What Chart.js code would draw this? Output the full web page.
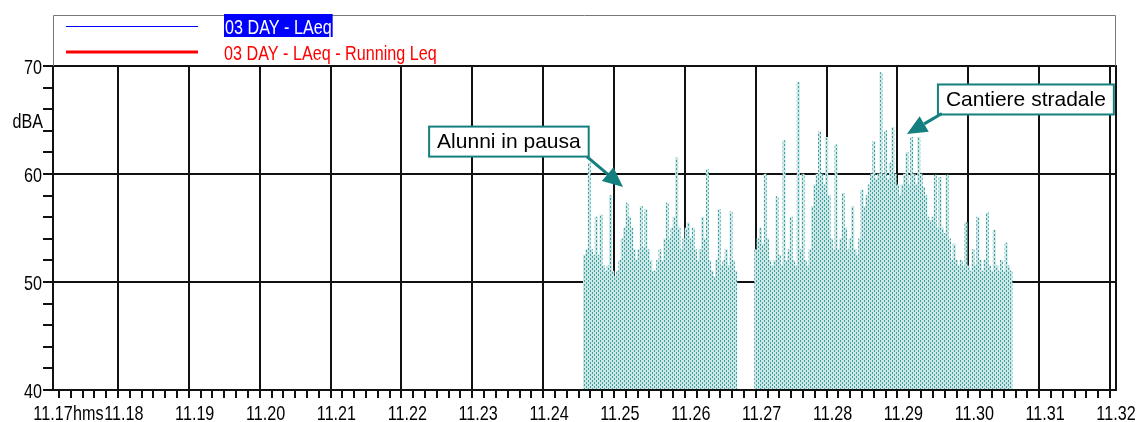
<!DOCTYPE html>
<html>
<head>
<meta charset="utf-8">
<script src="https://cdn.jsdelivr.net/npm/chart.js@4.4.0/dist/chart.umd.min.js"></script>
<style>
  body { margin: 0; background: #fff; }
  canvas { display: block; }
</style>
</head>
<body>
<canvas id="grafico" width="1136" height="422"></canvas>
<script>
// x in seconds after 11:00 (11.17 = 1020 s)
var xMin = 1020;
var xMax = 1920;
var yMin = 40;
var yMax = 70;
var xLabelStep = 60;
var yLabelStep = 10;

// LAeq, one value every 2 s
var sampleStep = 2;
var block1Start = 1470; // 11:24:30
var laeqBlock1 = [52.5,53,61,53,52.5,56,52.5,56.2,51.5,51, 51.5,58,51,50.5,51,52,54,55,57.3,56,
                  55,53,52,53,57,53.2,56.7,53,52,51, 51,52,53,52,54,57.3,54,55,56,61.5,
                  55,53,54,55,55.5,54,55,53,52,53, 56,54,60.4,52,51,50.5,52,56.7,51.5,52,
                  53,51.5,56.5,52,51];
var block2Start = 1615; // 11:26:55
var laeqBlock2 = [53,54,55,53.5,60,54,52,51.5,52,57.9, 52.5,51.5,63.1,52,53,56,52,51.5,68.5,53,
                  60,52,51.5,53,57,59,60,63.9,60,59, 63.4,58,54,53,62.7,53,54,58.2,55,53,
                  54,57,53,52.5,54,58.5,57,58,59,60, 63,59.5,60,69.4,60,64,59.5,61,64.3,60,
                  59,58,59,60,62,59,63.4,60,59,63.4, 60,58.8,58,56,55.7,56,59.9,55,59.7,55,
                  54.5,59.9,54,52,53.5,52,51.5,52,51.5,55.5, 51.5,51,53,51.5,56,52,51,52,56.4,51.5,
                  51,54.8,51.5,51,52,51,53.6,51.5,51];
var refLevel = 50;

var legendLabels = ['03 DAY - LAeq', '03 DAY - LAeq - Running Leq'];
var notes = [
    { text: 'Alunni in pausa',   x: 1406,   y: 63.0, tailX: 1472,   tailY: 61.6, tipX: 1502.6, tipY: 58.8 },
    { text: 'Cantiere stradale', x: 1843.7, y: 66.9, tailX: 1772.6, tailY: 65.6, tipX: 1743,   tipY: 63.7 }
];

var sans = '"Liberation Sans", Arial, sans-serif';
var squeeze = 0.77;   // the original uses a narrow face
var teal = '#13807f';

function puntos(start, values) {
    return values.map(function(v, i) { return { x: start + i * sampleStep, y: v }; });
}

// hatch of offset dashes like the original
function trama() {
    var c = document.createElement('canvas');
    c.width = 4; c.height = 4;
    var g = c.getContext('2d');
    g.fillStyle = '#cde7e7';
    g.fillRect(0, 0, 4, 4);
    g.fillStyle = '#3a9f9f';
    g.fillRect(0, 0, 1, 2);
    g.fillRect(2, 2, 1, 2);
    return g.createPattern(c, 'repeat');
}

function texto(ctx, s, x, y, align) {
    ctx.save();
    ctx.translate(x, y);
    ctx.scale(squeeze, 1);
    ctx.textAlign = align;
    ctx.fillText(s, 0, 0);
    ctx.restore();
}

var dibujos = {
    id: 'dibujos',
    afterDraw: function(chart) {
        var ctx = chart.ctx;
        var a = chart.chartArea;
        var xs = chart.scales.x, ys = chart.scales.y;
        ctx.save();

        // frame
        ctx.strokeStyle = '#111';
        ctx.lineWidth = 2;
        ctx.strokeRect(a.left, a.top, a.right - a.left, a.bottom - a.top);

        // legend box
        ctx.strokeStyle = '#777';
        ctx.lineWidth = 1;
        ctx.beginPath();
        ctx.moveTo(a.left + 0.5, a.top);
        ctx.lineTo(a.left + 0.5, 15.5);
        ctx.lineTo(a.right - 0.5, 15.5);
        ctx.lineTo(a.right - 0.5, a.top);
        ctx.stroke();

        ctx.font = '21px ' + sans;
        ctx.textBaseline = 'alphabetic';
        ctx.strokeStyle = '#0000ff';
        ctx.lineWidth = 1;
        ctx.beginPath();
        ctx.moveTo(66, 26.5);
        ctx.lineTo(198, 26.5);
        ctx.stroke();
        var w = ctx.measureText(legendLabels[0]).width * squeeze;
        ctx.fillStyle = '#0000ff';
        ctx.fillRect(224, 14, w + 2, 23);
        ctx.fillStyle = '#fff';
        texto(ctx, legendLabels[0], 225, 33.5, 'left');

        ctx.strokeStyle = '#ff0000';
        ctx.lineWidth = 3;
        ctx.beginPath();
        ctx.moveTo(66, 52);
        ctx.lineTo(198, 52);
        ctx.stroke();
        ctx.fillStyle = '#ff0000';
        texto(ctx, legendLabels[1], 224, 59.5, 'left');

        // tick labels
        ctx.fillStyle = '#000';
        for (var v = xMin; v <= xMax; v += xLabelStep) {
            texto(ctx, '11.' + (v / 60), xs.getPixelForValue(v), 420, 'center');
        }
        texto(ctx, 'hms', xs.getPixelForValue(xMin) + 20, 420, 'left');
        for (var y = yMin; y <= yMax; y += yLabelStep) {
            texto(ctx, String(y), a.left - 11, ys.getPixelForValue(y) + 7.5, 'right');
        }
        texto(ctx, 'dBA', a.left - 10, ys.getPixelForValue(65) + 7.5, 'right');

        // notes
        ctx.font = '21px ' + sans;
        ctx.textBaseline = 'middle';
        notes.forEach(function(n) {
            var cx = xs.getPixelForValue(n.x), cy = ys.getPixelForValue(n.y);
            var tw = ctx.measureText(n.text).width;
            var bw = tw + 16, bh = 30;
            ctx.fillStyle = '#fff';
            ctx.fillRect(cx - bw / 2, cy - bh / 2, bw, bh);
            ctx.strokeStyle = teal;
            ctx.lineWidth = 2;
            ctx.strokeRect(cx - bw / 2, cy - bh / 2, bw, bh);
            ctx.fillStyle = '#000';
            ctx.textAlign = 'center';
            ctx.fillText(n.text, cx, cy + 1);

            var x0 = xs.getPixelForValue(n.tailX), y0 = ys.getPixelForValue(n.tailY);
            var x1 = xs.getPixelForValue(n.tipX), y1 = ys.getPixelForValue(n.tipY);
            var ang = Math.atan2(y1 - y0, x1 - x0);
            var hl = 20, hw = 9;
            var bx = x1 - hl * Math.cos(ang), by = y1 - hl * Math.sin(ang);
            ctx.strokeStyle = teal;
            ctx.lineWidth = 3;
            ctx.beginPath();
            ctx.moveTo(x0, y0);
            ctx.lineTo(bx, by);
            ctx.stroke();
            ctx.fillStyle = teal;
            ctx.beginPath();
            ctx.moveTo(x1, y1);
            ctx.lineTo(bx + hw * Math.sin(ang), by - hw * Math.cos(ang));
            ctx.lineTo(bx - hw * Math.sin(ang), by + hw * Math.cos(ang));
            ctx.closePath();
            ctx.fill();
        });
        ctx.restore();
    }
};

var laeq = puntos(block1Start, laeqBlock1).concat(puntos(block2Start, laeqBlock2));
var block1End = block1Start + (laeqBlock1.length - 1) * sampleStep;
var block2End = block2Start + (laeqBlock2.length - 1) * sampleStep;
var nivel = [
    { x: block1Start, y: refLevel }, { x: block1End, y: refLevel }, { x: (block1End + block2Start) / 2, y: null },
    { x: block2Start, y: refLevel }, { x: block2End, y: refLevel }
];

new Chart(document.getElementById('grafico'), {
    type: 'bar',
    data: {
        datasets: [
            {
                label: legendLabels[0],
                data: laeq,
                backgroundColor: trama(),
                borderWidth: 0,
                barPercentage: 1,
                categoryPercentage: 1,
                order: 1
            },
            {
                type: 'line',
                label: 'ref',
                data: nivel,
                borderColor: '#222',
                borderWidth: 1.5,
                borderDash: [10, 6],
                pointRadius: 0,
                spanGaps: false,
                order: 2
            }
        ]
    },
    options: {
        responsive: false,
        animation: false,
        devicePixelRatio: 1,
        layout: { padding: { top: 66, right: 20, left: 0, bottom: 0 } },
        plugins: { legend: { display: false }, tooltip: { enabled: false } },
        scales: {
            x: {
                type: 'linear',
                min: xMin,
                max: xMax,
                offset: false,
                afterFit: function(s) { s.height = 32; },
                ticks: {
                    stepSize: 10,
                    autoSkip: false,
                    maxRotation: 0,
                    minRotation: 0,
                    callback: function() { return ''; }
                },
                grid: {
                    color: function(c) { return c.tick && c.tick.value % 60 === 0 ? '#111' : 'rgba(0,0,0,0)'; },
                    tickColor: '#111',
                    tickLength: 8,
                    lineWidth: 2
                },
                border: { color: '#111', width: 2 }
            },
            y: {
                min: yMin,
                max: yMax,
                afterFit: function(s) { s.width = 53; },
                ticks: {
                    stepSize: 2,
                    autoSkip: false,
                    callback: function() { return ''; }
                },
                grid: {
                    color: function(c) { return c.tick && (c.tick.value === 50 || c.tick.value === 60) ? '#111' : 'rgba(0,0,0,0)'; },
                    tickColor: '#111',
                    tickLength: 10,
                    lineWidth: 2
                },
                border: { color: '#111', width: 2 }
            }
        }
    },
    plugins: [dibujos]
});
</script>
</body>
</html>
